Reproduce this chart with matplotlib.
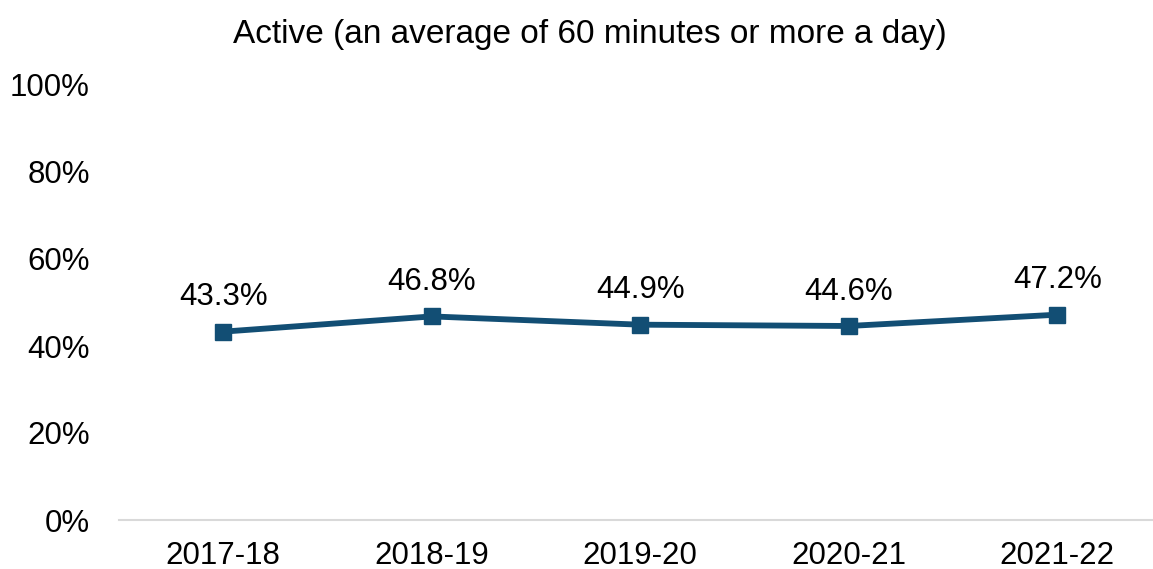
import matplotlib.pyplot as plt

years = ['2017-18', '2018-19', '2019-20', '2020-21', '2021-22']
active = [43.3, 46.8, 44.9, 44.6, 47.2]
yticks = [0, 20, 40, 60, 80, 100]

plt.rcParams['font.family'] = ['Liberation Sans', 'DejaVu Sans']

fig = plt.figure(figsize=(11.53, 5.69), dpi=100)
W, H = 1153, 569
ax = fig.add_axes([119 / W, (H - 520) / H, 1042.5 / W, 435 / H])

x = list(range(len(years)))
ax.plot(x, active, color='#124e74', lw=4.2, marker='s', markersize=11, clip_on=False)
for xi, v in zip(x, active):
    ax.annotate(f'{v:.1f}%', (xi, v), xytext=(0, 14), textcoords='offset points',
                ha='center', va='bottom', fontsize=22.5, color='#000000')

ax.set_xlim(-0.5, 4.5)
ax.set_ylim(0, 100)
ax.set_xticks(x)
ax.set_xticklabels(years)
ax.set_yticks(yticks)
ax.set_yticklabels([f'{t}%' for t in yticks])
ax.tick_params(axis='both', length=0, labelsize=22.5)
ax.tick_params(axis='x', pad=15)
ax.tick_params(axis='y', pad=21)

for side in ['top', 'right', 'left']:
    ax.spines[side].set_visible(False)
ax.spines['bottom'].set_color('#d9d9d9')
ax.spines['bottom'].set_linewidth(1.5)

fig.text(590 / W, 1 - 35 / H, 'Active (an average of 60 minutes or more a day)',
         ha='center', va='center', fontsize=24)

fig.savefig('out.png', dpi=100)
